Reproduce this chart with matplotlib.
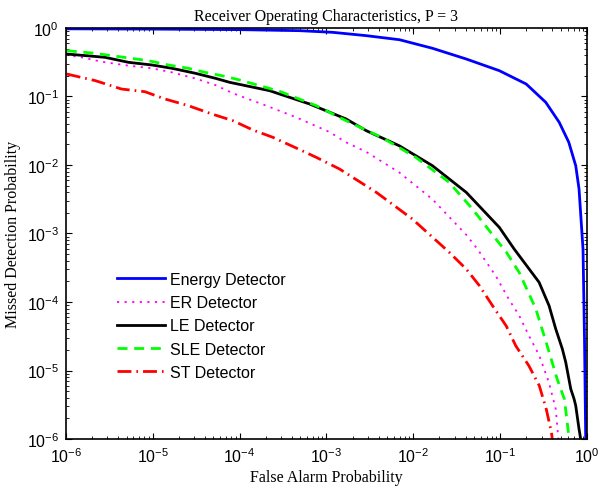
import numpy as np
import matplotlib
matplotlib.use("Agg")
import matplotlib.pyplot as plt

# values, as log10 exponents (x = false alarm, y = missed detection)
energy_pf = [-6.0, -5.0, -4.0, -3.31, -2.93, -2.54, -2.16, -1.78, -1.39, -1.01, -0.70,
             -0.475, -0.32, -0.21, -0.13, -0.092, -0.046, -0.029, -0.015]
energy_pm = [-0.012, -0.016, -0.024, -0.039, -0.063, -0.112, -0.171, -0.296, -0.453, -0.623, -0.818,
             -1.085, -1.377, -1.668, -2.01, -2.35, -3.23, -4.54, -6.0]

er_pf = [-6.0, -5.82, -5.59, -5.28, -5.01, -4.78, -4.51, -4.28, -4.077, -3.693, -3.348, -2.966,
         -2.774, -2.54, -2.16, -1.78, -1.39, -1.26, -1.05, -0.90, -0.78, -0.67, -0.55, -0.44,
         -0.36, -0.33]
er_pm = [-0.394, -0.428, -0.492, -0.550, -0.588, -0.647, -0.737, -0.832, -0.953, -1.134, -1.304, -1.518,
         -1.669, -1.81, -2.11, -2.50, -3.02, -3.23, -3.62, -3.96, -4.20, -4.49, -4.78, -5.17,
         -5.56, -6.0]

le_pf = [-5.99, -5.55, -5.28, -5.01, -4.78, -4.51, -4.28, -4.115, -3.655, -3.195, -2.774, -2.54,
         -2.16, -1.78, -1.39, -1.01, -0.839, -0.552, -0.437, -0.360, -0.284, -0.245, -0.187,
         -0.149, -0.130, -0.092, -0.073]
le_pm = [-0.380, -0.428, -0.501, -0.540, -0.588, -0.661, -0.734, -0.793, -0.915, -1.109, -1.328, -1.50,
         -1.72, -2.01, -2.40, -2.91, -3.226, -3.712, -4.054, -4.394, -4.686, -4.88, -5.27,
         -5.416, -5.514, -5.854, -6.0]

sle_pf = [-5.99, -5.70, -5.47, -5.05, -4.82, -4.59, -4.40, -4.17, -4.0, -3.54, -3.118, -2.774,
          -2.36, -1.97, -1.59, -1.32, -1.05, -0.93, -0.78, -0.59, -0.47, -0.345, -0.26, -0.21, -0.195]
sle_pm = [-0.331, -0.365, -0.404, -0.477, -0.540, -0.588, -0.647, -0.705, -0.759, -0.924, -1.134, -1.353,
          -1.60, -1.89, -2.25, -2.64, -3.08, -3.27, -3.57, -4.10, -4.59, -5.12, -5.42, -5.95, -6.0]

st_pf = [-5.99, -5.66, -5.36, -5.09, -4.86, -4.59, -4.32, -4.077, -3.847, -3.617, -3.348, -3.118,
         -2.85, -2.425, -2.01, -1.59, -1.39, -1.24, -1.09, -0.93, -0.82, -0.67, -0.55, -0.47,
         -0.41, -0.40]
st_pm = [-0.672, -0.769, -0.891, -0.930, -1.036, -1.134, -1.255, -1.353, -1.489, -1.596, -1.752, -1.888,
         -2.058, -2.40, -2.79, -3.27, -3.52, -3.76, -4.05, -4.35, -4.64, -4.93, -5.22, -5.56,
         -5.90, -6.0]

labels = ["Energy Detector", "ER Detector", "LE Detector", "SLE Detector", "ST Detector"]

serif = "Liberation Serif"
sans = "Liberation Sans"
plt.rcParams["font.family"] = sans

fig = plt.figure(figsize=(5.99, 4.89), dpi=100)
ax = fig.add_axes([0.110, 0.1002, 0.870, 0.8405])


def p(v):
    return 10.0 ** np.array(v)


ax.plot(p(energy_pf), p(energy_pm), color="#0000ff", lw=2.0, label=labels[0])
ax.plot(p(er_pf), p(er_pm), color="#ff00ff", lw=1.3, dashes=(1.2, 3.0), label=labels[1])
ax.plot(p(le_pf), p(le_pm), color="black", lw=2.0, label=labels[2])
ax.plot(p(sle_pf), p(sle_pm), color="#00ff00", lw=2.0, dashes=(3.6, 2.4), label=labels[3])
ax.plot(p(st_pf), p(st_pm), color="#ff0000", lw=2.0, dashes=(5.0, 1.8, 0.6, 1.8), label=labels[4])

ax.set_xscale("log")
ax.set_yscale("log")
ax.set_xlim(1e-6, 1)
ax.set_ylim(1e-6, 1)

ax.tick_params(which="both", direction="in", top=True, right=True, labelsize=11.5)
ax.tick_params(which="major", length=4.5, width=0.8, pad=5)
ax.tick_params(which="minor", length=2.5, width=0.6)
for s in ax.spines.values():
    s.set_linewidth(1.2)

ax.set_title("Receiver Operating Characteristics, P = 3", fontfamily=serif, fontsize=11.5, pad=6)
ax.set_xlabel("False Alarm Probability", fontfamily=serif, fontsize=11.5, labelpad=3)
ax.set_ylabel("Missed Detection Probability", fontfamily=serif, fontsize=11.5, labelpad=4)

ax.legend(loc="center left", bbox_to_anchor=(0.098, 0.275), frameon=False, fontsize=11.5,
          handlelength=3.0, handletextpad=0.3, labelspacing=0.52, borderpad=0, borderaxespad=0)

fig.savefig("out.png", dpi=100)
